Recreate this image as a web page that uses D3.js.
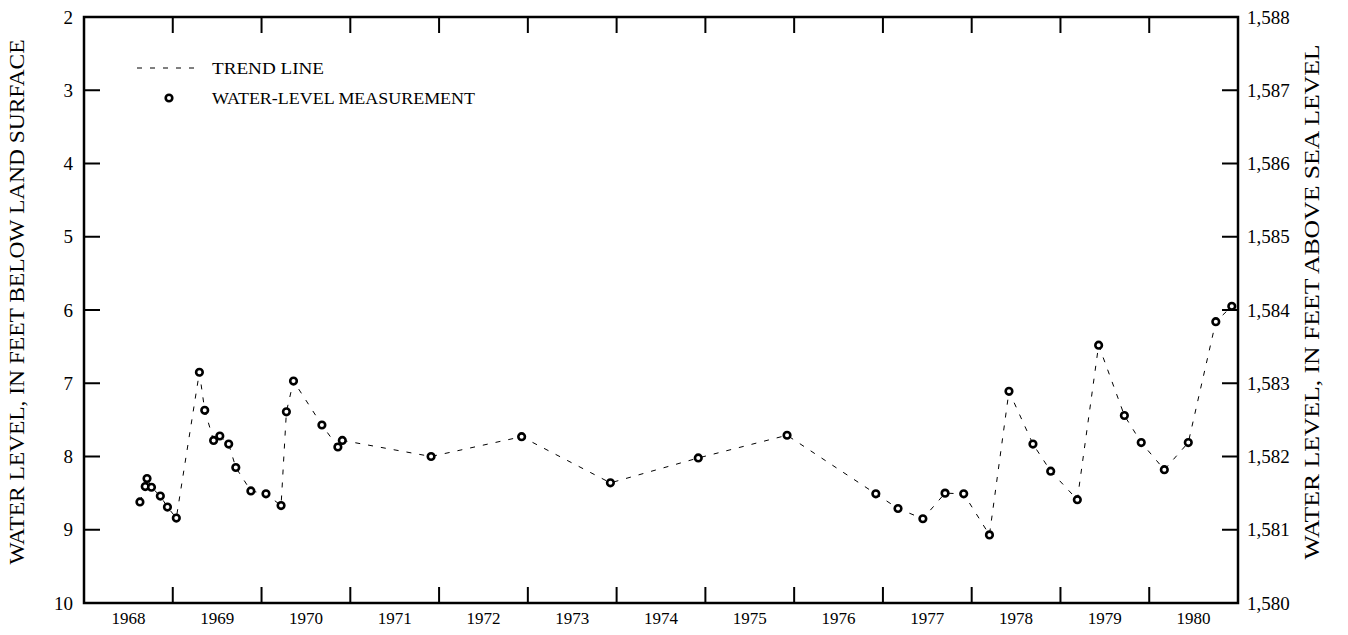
<!DOCTYPE html>
<html>
<head>
<meta charset="utf-8">
<script src="https://cdn.jsdelivr.net/npm/d3@7"></script>
<style>
  body { margin: 0; background: #fff; }
  svg text { font-family: 'Liberation Serif', 'Times New Roman', Times, serif; fill: #000; }
</style>
</head>
<body>
<svg id="chart" width="1348" height="635"></svg>
<script>
// decimal year of each measurement
var dates = [1968.63, 1968.69, 1968.71, 1968.76, 1968.86, 1968.94, 1969.04,
  1969.30, 1969.36, 1969.46, 1969.53, 1969.63, 1969.71, 1969.88, 1970.05,
  1970.22, 1970.28, 1970.36, 1970.68, 1970.86, 1970.91, 1971.91, 1972.93,
  1973.93, 1974.92, 1975.92, 1976.92, 1977.17, 1977.45, 1977.70, 1977.91,
  1978.20, 1978.42, 1978.69, 1978.89, 1979.19, 1979.43, 1979.72, 1979.91,
  1980.17, 1980.44, 1980.75, 1980.93];
// depth below land surface, feet
var depths = [8.62, 8.41, 8.30, 8.42, 8.54, 8.69, 8.84,
  6.85, 7.37, 7.78, 7.72, 7.83, 8.15, 8.47, 8.51,
  8.67, 7.39, 6.97, 7.57, 7.87, 7.78, 8.00, 7.73,
  8.36, 8.02, 7.71, 8.51, 8.71, 8.85, 8.50, 8.51,
  9.07, 7.11, 7.83, 8.20, 8.59, 6.48, 7.44, 7.81,
  8.18, 7.81, 6.16, 5.95];
// trend line runs on past the last measurement to the edge
var trendEnd = [1981.0, 6.1];

var years = [1968, 1969, 1970, 1971, 1972, 1973, 1974, 1975, 1976, 1977, 1978, 1979, 1980];
var depthTicks = [2, 3, 4, 5, 6, 7, 8, 9, 10];
var landSurface = 1590; // altitude = landSurface - depth

var svg = d3.select("#chart"),
    margin = {top: 17, right: 110, bottom: 32, left: 84},
    width = +svg.attr("width") - margin.left - margin.right,
    height = +svg.attr("height") - margin.top - margin.bottom;

var x = d3.scaleLinear().domain([1968, 1981]).range([0, width]);
var y = d3.scaleLinear().domain([2, 10]).range([0, height]);

var g = svg.append("g").attr("transform", "translate(" + margin.left + "," + margin.top + ")");

var tickLen = 16;
var inner = years.slice(1);
var innerDepth = depthTicks.slice(1, -1);

// ticks on all four sides, pointing inward
g.selectAll(".tb").data(inner).enter().append("line")
    .attr("x1", function(d) { return x(d); }).attr("x2", function(d) { return x(d); })
    .attr("y1", height).attr("y2", height - tickLen)
    .attr("stroke", "#000").attr("stroke-width", 2);
g.selectAll(".tt").data(inner).enter().append("line")
    .attr("x1", function(d) { return x(d); }).attr("x2", function(d) { return x(d); })
    .attr("y1", 0).attr("y2", tickLen)
    .attr("stroke", "#000").attr("stroke-width", 2);
g.selectAll(".tl").data(innerDepth).enter().append("line")
    .attr("x1", 0).attr("x2", tickLen)
    .attr("y1", function(d) { return y(d); }).attr("y2", function(d) { return y(d); })
    .attr("stroke", "#000").attr("stroke-width", 2);
g.selectAll(".tr").data(innerDepth).enter().append("line")
    .attr("x1", width).attr("x2", width - tickLen)
    .attr("y1", function(d) { return y(d); }).attr("y2", function(d) { return y(d); })
    .attr("stroke", "#000").attr("stroke-width", 2);

g.append("rect")
    .attr("width", width).attr("height", height)
    .attr("fill", "none").attr("stroke", "#000").attr("stroke-width", 2.5);

// year labels centred inside each year
g.selectAll(".yl").data(years).enter().append("text")
    .attr("x", function(d) { return x(d + 0.5); })
    .attr("y", height + 21)
    .attr("text-anchor", "middle")
    .style("font-size", "17px")
    .text(function(d) { return d; });

g.selectAll(".dl").data(depthTicks).enter().append("text")
    .attr("x", -11)
    .attr("y", function(d) { return y(d); })
    .attr("dy", "0.35em")
    .attr("text-anchor", "end")
    .style("font-size", "19px")
    .text(function(d) { return d; });

var fmt = d3.format(",");
g.selectAll(".al").data(depthTicks).enter().append("text")
    .attr("x", width + 9)
    .attr("y", function(d) { return y(d); })
    .attr("dy", "0.35em")
    .style("font-size", "19px")
    .text(function(d) { return fmt(landSurface - d); });

svg.append("text")
    .attr("transform", "translate(24," + (margin.top + height / 2 - 8) + ") rotate(-90)")
    .attr("text-anchor", "middle")
    .attr("textLength", 525)
    .attr("lengthAdjust", "spacingAndGlyphs")
    .style("font-size", "21px")
    .text("WATER LEVEL, IN FEET BELOW LAND SURFACE");

svg.append("text")
    .attr("transform", "translate(1319," + (margin.top + height / 2 - 8) + ") rotate(-90)")
    .attr("text-anchor", "middle")
    .attr("textLength", 515)
    .attr("lengthAdjust", "spacingAndGlyphs")
    .style("font-size", "21px")
    .text("WATER LEVEL, IN FEET ABOVE SEA LEVEL");

// trend line
var points = dates.map(function(d, i) { return [d, depths[i]]; });
var trend = points.concat([trendEnd]);

var line = d3.line()
    .x(function(d) { return x(d[0]); })
    .y(function(d) { return y(d[1]); });

g.append("path")
    .datum(trend)
    .attr("d", line)
    .attr("fill", "none")
    .attr("stroke", "#000")
    .attr("stroke-width", 1)
    .attr("stroke-dasharray", "5,8");

g.selectAll(".pt").data(points).enter().append("circle")
    .attr("cx", function(d) { return x(d[0]); })
    .attr("cy", function(d) { return y(d[1]); })
    .attr("r", 3.3)
    .attr("fill", "#fff")
    .attr("stroke", "#000")
    .attr("stroke-width", 2.6);

// legend
var lg = svg.append("g");
lg.append("line")
    .attr("x1", 137).attr("x2", 202).attr("y1", 68).attr("y2", 68)
    .attr("stroke", "#000").attr("stroke-width", 1)
    .attr("stroke-dasharray", "5,8");
lg.append("text").attr("x", 212).attr("y", 68).attr("dy", "0.35em")
    .attr("textLength", 112).attr("lengthAdjust", "spacingAndGlyphs")
    .style("font-size", "17px").text("TREND LINE");
lg.append("circle").attr("cx", 169).attr("cy", 98).attr("r", 3.3)
    .attr("fill", "#fff").attr("stroke", "#000").attr("stroke-width", 2.6);
lg.append("text").attr("x", 212).attr("y", 98).attr("dy", "0.35em")
    .attr("textLength", 263).attr("lengthAdjust", "spacingAndGlyphs")
    .style("font-size", "17px").text("WATER-LEVEL MEASUREMENT");
</script>
</body>
</html>
